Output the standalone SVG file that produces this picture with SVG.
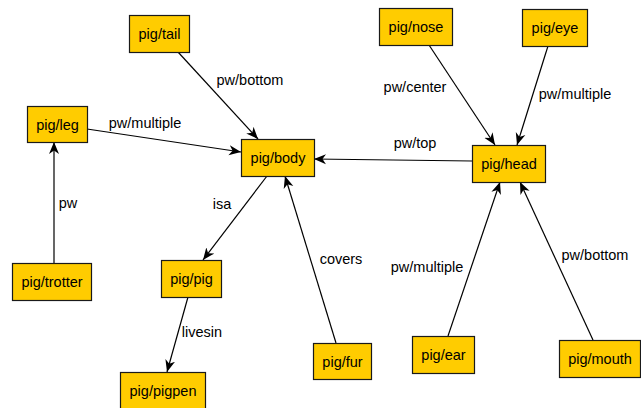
<svg xmlns="http://www.w3.org/2000/svg" width="641" height="408" viewBox="0 0 641 408">
<style>
.n rect{fill:#FFCC00;stroke:#1a1a1a;stroke-width:1.2}
.n text{font-family:"Liberation Sans",Arial,sans-serif;font-size:14.5px;fill:#000;text-anchor:middle}
.e line{stroke:#000;stroke-width:1.2;marker-end:url(#arr)}
.l{font-family:"Liberation Sans",Arial,sans-serif;font-size:14.5px;fill:#000;text-anchor:middle}
</style>
<defs>
<marker id="arr" markerUnits="userSpaceOnUse" markerWidth="13" markerHeight="11" refX="12" refY="5.5" orient="auto" viewBox="0 0 13 11">
<path d="M0,0.5 L12,5.5 L0,10.5 L3.5,5.5 Z" fill="#000"/>
</marker>
</defs>
<rect width="641" height="408" fill="#fff"/>
<g id="connectors" class="e">
<line x1="178" y1="52" x2="258" y2="139"/>
<line x1="87" y1="129" x2="241" y2="152"/>
<line x1="54" y1="263" x2="54" y2="142"/>
<line x1="267" y1="176" x2="203" y2="260"/>
<line x1="188" y1="297" x2="167" y2="372"/>
<line x1="336" y1="343" x2="285" y2="176"/>
<line x1="472" y1="161" x2="314" y2="159"/>
<line x1="429" y1="45" x2="495" y2="145"/>
<line x1="548" y1="46" x2="517" y2="145"/>
<line x1="448" y1="336" x2="500" y2="182"/>
<line x1="593" y1="340" x2="520" y2="182"/>
</g>
<g id="labels">
<text class="l" x="250" y="85">pw/bottom</text>
<text class="l" x="145" y="128">pw/multiple</text>
<text class="l" x="68" y="208">pw</text>
<text class="l" x="222" y="209">isa</text>
<text class="l" x="202" y="337">livesin</text>
<text class="l" x="341" y="264">covers</text>
<text class="l" x="427" y="272">pw/multiple</text>
<text class="l" x="595" y="260">pw/bottom</text>
<text class="l" x="415" y="92">pw/center</text>
<text class="l" x="575" y="99">pw/multiple</text>
<text class="l" x="415" y="148">pw/top</text>
</g>
<g id="tail" class="n"><rect x="129.5" y="15.5" width="60" height="37"/><text x="159.5" y="39">pig/tail</text></g>
<g id="leg" class="n"><rect x="27.5" y="106.5" width="60" height="36"/><text x="57.5" y="129.5">pig/leg</text></g>
<g id="body" class="n"><rect x="241.5" y="139.5" width="73" height="37"/><text x="278" y="163">pig/body</text></g>
<g id="nose" class="n"><rect x="379.5" y="8.5" width="73" height="37"/><text x="416" y="32">pig/nose</text></g>
<g id="eye" class="n"><rect x="522.5" y="9.5" width="65" height="37"/><text x="555" y="33">pig/eye</text></g>
<g id="head" class="n"><rect x="472.5" y="145.5" width="73" height="37"/><text x="509" y="169">pig/head</text></g>
<g id="trotter" class="n"><rect x="12.5" y="263.5" width="79" height="37"/><text x="52" y="287">pig/trotter</text></g>
<g id="pig" class="n"><rect x="161.5" y="260.5" width="60" height="37"/><text x="191.5" y="284">pig/pig</text></g>
<g id="pigpen" class="n"><rect x="120.5" y="372.5" width="85" height="37"/><text x="163" y="396">pig/pigpen</text></g>
<g id="fur" class="n"><rect x="313.5" y="343.5" width="58" height="36"/><text x="342.5" y="366.5">pig/fur</text></g>
<g id="ear" class="n"><rect x="412.5" y="336.5" width="62" height="37"/><text x="443.5" y="360">pig/ear</text></g>
<g id="mouth" class="n"><rect x="559.5" y="340.5" width="81" height="37"/><text x="600" y="364">pig/mouth</text></g>
</svg>
